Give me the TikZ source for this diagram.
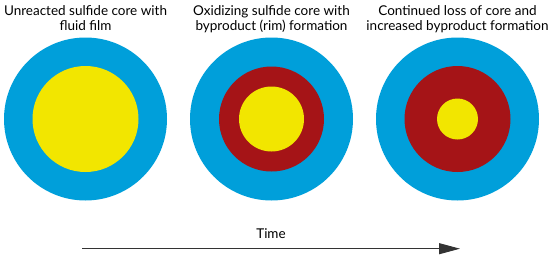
\documentclass[tikz,border=0pt]{standalone}
\usepackage{fontspec}
\setmainfont{Lato}
\usetikzlibrary{arrows.meta}

\definecolor{filmblue}{HTML}{009FDA}
\definecolor{rimred}{HTML}{A51417}
\definecolor{coreyellow}{HTML}{F2E600}
\tikzset{
    disc/.style={circle, inner sep=0pt, minimum size=#1},
    caption/.style={align=center, anchor=base, inner sep=0pt, font=\fontsize{13.5}{15}\selectfont}
}

\begin{document}
\begin{tikzpicture}[x=1pt, y=-1pt, >={Triangle[length=21pt, width=11pt]}]
    \useasboundingbox (0,0) rectangle (550,258);
    % unreacted grain
    \node[disc=163pt, fill=filmblue] (film1) at (85.5,119) {};
    \node[disc=106pt, fill=coreyellow] (core1) at (85.5,119) {};
    \node[caption] (cap1) at (85.5,30) {Unreacted sulfide core with\\fluid film};
    % oxidizing grain
    \node[disc=163pt, fill=filmblue] (film2) at (271.5,119) {};
    \node[disc=105pt, fill=rimred] (rim2) at (271.5,119) {};
    \node[disc=65pt, fill=coreyellow] (core2) at (271.5,119) {};
    \node[caption] (cap2) at (271.5,30) {Oxidizing sulfide core with\\byproduct (rim) formation};
    % late grain
    \node[disc=163pt, fill=filmblue] (film3) at (457.5,119) {};
    \node[disc=106pt, fill=rimred] (rim3) at (457.5,119) {};
    \node[disc=41pt, fill=coreyellow] (core3) at (457.5,119) {};
    \node[caption] (cap3) at (457.5,30) {Continued loss of core and\\increased byproduct formation};
    % time axis
    \node[caption] (time) at (271,238) {Time};
    \coordinate (tstart) at (82,248.7);
    \coordinate (tend) at (460,248.7);
    \draw[->, line width=1pt, black!80] (tstart) -- (tend);
\end{tikzpicture}
\end{document}
